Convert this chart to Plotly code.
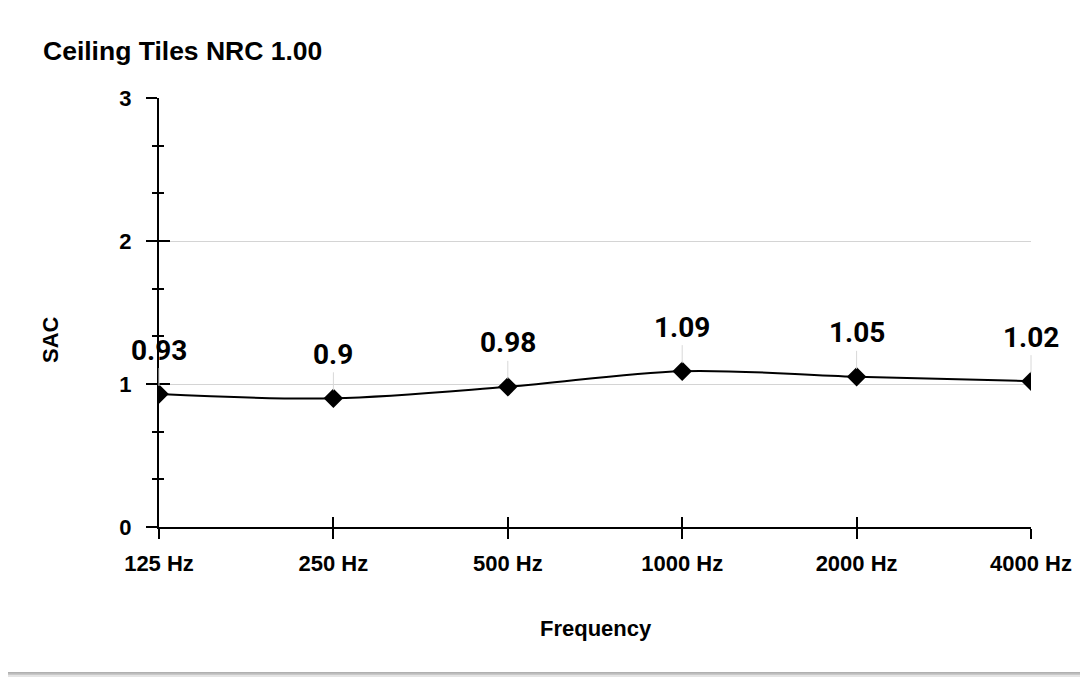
import plotly.graph_objects as go

# ---- data ----
categories = ["125 Hz", "250 Hz", "500 Hz", "1000 Hz", "2000 Hz", "4000 Hz"]
sac_values = [0.93, 0.9, 0.98, 1.09, 1.05, 1.02]
value_labels = ["0.93", "0.9", "0.98", "1.09", "1.05", "1.02"]
y_ticks = [0, 1, 2, 3]
title_text = "Ceiling Tiles NRC 1.00"
x_title = "Frequency"
y_title = "SAC"

# page is offset by the default 8px body margin
OFF = 8
PAGE_W, PAGE_H = 1088, 677
W, H = PAGE_W - OFF, PAGE_H - OFF
PLOT_L, PLOT_R, PLOT_T, PLOT_B = 159, 1031, 98, 527   # page pixels
ML, MR, MT, MB = PLOT_L - OFF, PAGE_W - PLOT_R, PLOT_T - OFF, PAGE_H - PLOT_B
PW, PH = PLOT_R - PLOT_L, PLOT_B - PLOT_T

def px(x):
    return (x - PLOT_L) / PW

def py(y):
    return (PLOT_B - y) / PH

xpos = list(range(len(categories)))

fig = go.Figure()
fig.add_trace(go.Scatter(
    x=xpos, y=sac_values, mode="lines+markers",
    line=dict(color="black", width=2, shape="spline", smoothing=1),
    marker=dict(symbol="diamond", size=15, color="black"),
    hoverinfo="skip", showlegend=False,
))
# invisible trace for overlay axes (inside ticks)
fig.add_trace(go.Scatter(x=[xpos[0]], y=[y_ticks[0]], xaxis="x2", yaxis="y2",
                         mode="markers", marker=dict(opacity=0), showlegend=False,
                         hoverinfo="skip"))

tickfont = dict(family="Liberation Sans, Arial", size=22, color="black")

fig.update_layout(
    width=W, height=H,
    margin=dict(l=ML, r=MR, t=MT, b=MB),
    paper_bgcolor="white",
    plot_bgcolor="rgba(0,0,0,0)",
    xaxis=dict(
        range=[0, len(categories) - 1], tickvals=xpos, ticktext=[f"<b>{c}</b>" for c in categories],
        ticks="outside", ticklen=10, tickwidth=2, tickcolor="black",
        showline=True, linecolor="black", linewidth=2, showgrid=False, zeroline=False,
        tickfont=tickfont, ticklabelstandoff=6, fixedrange=True,
    ),
    yaxis=dict(
        range=[0, 3], tickvals=y_ticks, ticktext=[f"<b>{v}</b>" for v in y_ticks],
        ticks="outside", ticklen=11, tickwidth=2, tickcolor="black",
        showline=True, linecolor="black", linewidth=2,
        showgrid=True, gridcolor="#d4d4d4", gridwidth=1, zeroline=False,
        tickfont=tickfont, ticklabelstandoff=10,
        minor=dict(dtick=1/3, ticks="outside", ticklen=5, tickwidth=1.5, tickcolor="black", showgrid=False),
    ),
    xaxis2=dict(
        overlaying="x", range=[0, len(categories) - 1], tickvals=xpos,
        ticks="inside", ticklen=10, tickwidth=2, tickcolor="black",
        showticklabels=False, showline=False, showgrid=False, zeroline=False,
        anchor="y2", side="bottom",
    ),
    yaxis2=dict(
        overlaying="y", range=[0, 3], tickvals=y_ticks,
        ticks="inside", ticklen=11, tickwidth=2, tickcolor="black",
        showticklabels=False, showline=False, showgrid=False, zeroline=False,
        anchor="x2", side="left",
        minor=dict(dtick=1/3, ticks="inside", ticklen=5, tickwidth=1.5, tickcolor="black", showgrid=False),
    ),
    showlegend=False,
)

# card bottom shadow
shapes = []
shadow_layers = [(5, "#e4e4e4"), (3, "#c8c8c8"), (1.5, "#b0b0b0")]
for off, col in shadow_layers:
    shapes.append(dict(type="rect", xref="paper", yref="paper",
                       x0=px(0), x1=px(PAGE_W + 10), y0=py(0), y1=py(672 + off),
                       fillcolor=col, line=dict(width=0), layer="below"))
shapes.append(dict(type="rect", xref="paper", yref="paper",
                   x0=px(0), x1=px(PAGE_W + 10), y0=py(0), y1=py(672),
                   fillcolor="white", line=dict(width=0), layer="below"))
fig.update_layout(shapes=shapes)

annotations = []
for x, v, lab in zip(xpos, sac_values, value_labels):
    annotations.append(dict(
        x=x, y=v, xref="x", yref="y", text=f"<b>{lab}</b>",
        showarrow=True, arrowhead=0, arrowwidth=1, arrowcolor="#d8d8d8",
        ax=0, ay=-44, standoff=8,
        font=dict(family="Roboto", size=28, color="black"),
    ))
annotations.append(dict(x=px(41), y=py(51), xref="paper", yref="paper",
                        text=f"<b>{title_text}</b>", showarrow=False,
                        xanchor="left", yanchor="middle",
                        font=dict(family="Liberation Sans, Arial", size=26.5, color="black")))
annotations.append(dict(x=px(596), y=py(628), xref="paper", yref="paper",
                        text=f"<b>{x_title}</b>", showarrow=False,
                        xanchor="center", yanchor="middle",
                        font=dict(family="Liberation Sans, Arial", size=22, color="black")))
annotations.append(dict(x=px(50), y=py(340), xref="paper", yref="paper",
                        text=f"<b>{y_title}</b>", showarrow=False, textangle=-90,
                        xanchor="center", yanchor="middle",
                        font=dict(family="Liberation Sans, Arial", size=22, color="black")))
fig.update_layout(annotations=annotations)

fig.write_html("out.html", config={"displayModeBar": False})
